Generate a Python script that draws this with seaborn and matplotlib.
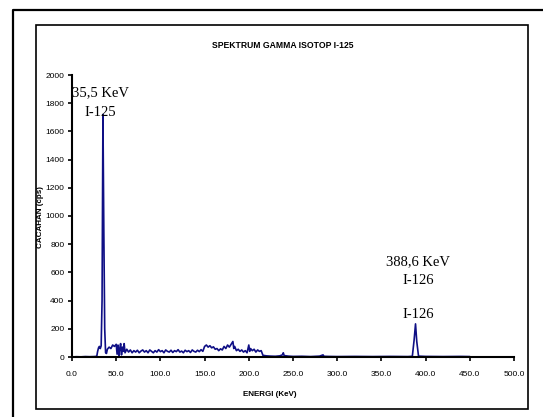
import numpy as np
import pandas as pd
import matplotlib
matplotlib.use("Agg")
import matplotlib.pyplot as plt
from matplotlib.lines import Line2D
from matplotlib.patches import Rectangle
import seaborn as sns

# spectrum: energy (keV) and counts (cps)
energi = [0, 5, 10, 15, 20, 25, 28, 29, 30, 31, 32, 33, 34, 35, 36, 37, 38, 39, 40,
          42, 44, 46, 48, 50, 51, 52, 53, 54, 55, 56, 57, 58, 59, 60,
          62, 64, 66, 68, 70, 72, 74, 76, 78, 80, 82, 84, 86, 88, 90,
          92, 94, 96, 98, 100, 102, 104, 106, 108, 110, 112, 114, 116, 118, 120,
          122, 124, 126, 128, 130, 132, 134, 136, 138, 140, 142, 144, 146, 148,
          150, 152, 154, 156, 158, 160, 162, 164, 166, 168, 170, 172, 174, 176,
          178, 180, 182, 183, 184, 186, 188, 190, 192, 194, 196, 198, 200, 201,
          202, 204, 206, 208, 210, 212, 214, 216, 218, 220, 225, 230, 235, 238,
          239, 240, 245, 250, 260, 270, 280, 284, 285, 290, 300, 320, 340, 360,
          380, 385, 387, 388.6, 390, 392, 400, 420, 440, 450]
cacahan = [0, 2, 1, 3, 2, 3, 5, 40, 65, 75, 60, 80, 400, 1720, 900, 200, 30, 25, 55,
           70, 60, 85, 75, 90, 20, 85, 10, 60, 95, 15, 70, 40, 95, 30,
           55, 35, 50, 30, 45, 35, 48, 30, 42, 50, 35, 45, 30, 50, 40,
           30, 45, 35, 52, 38, 45, 30, 50, 40, 35, 48, 32, 45, 38, 52,
           35, 42, 30, 48, 38, 45, 32, 50, 40, 35, 48, 38, 52, 40,
           75, 85, 70, 80, 65, 72, 55, 60, 45, 58, 50, 75, 60, 85,
           70, 90, 110, 60, 75, 45, 55, 40, 50, 35, 45, 30, 85, 40,
           60, 45, 55, 35, 50, 40, 45, 12, 10, 8, 6, 5, 8, 15,
           30, 10, 6, 4, 5, 3, 6, 15, 5, 4, 3, 4, 3, 4,
           3, 5, 120, 235, 110, 6, 4, 3, 4, 3]

xticks = [0, 50, 100, 150, 200, 250, 300, 350, 400, 450, 500]
yticks = [0, 200, 400, 600, 800, 1000, 1200, 1400, 1600, 1800, 2000]

df = pd.DataFrame({"energi": energi, "cacahan": cacahan})

sns.set_style("white", {"text.color": "black", "axes.labelcolor": "black",
                        "xtick.color": "black", "ytick.color": "black"})
plt.rcParams["font.family"] = ["Liberation Sans Narrow", "Liberation Sans", "DejaVu Sans"]

fig = plt.figure(figsize=(5.43, 4.17), dpi=100)
ax = fig.add_axes([72 / 543, 1 - 357 / 417, (514 - 72) / 543, (357 - 75) / 417])

sns.lineplot(data=df, x="energi", y="cacahan", ax=ax, color="#0f0f85",
             linewidth=1.2, sort=False)

ax.set_xlim(0, 500)
ax.set_ylim(0, 2000)
ax.set_xticks(xticks)
ax.set_xticklabels([f"{t:.1f}" for t in xticks])
ax.set_yticks(yticks)
ax.set_yticklabels([str(t) for t in yticks])
ax.tick_params(axis="both", direction="out", length=3, width=1.2, labelsize=6.0,
               color="black", labelcolor="black", pad=2.5, left=True, bottom=True)
ax.tick_params(axis="x", pad=7)
for side in ["top", "right"]:
    ax.spines[side].set_visible(False)
for side in ["left", "bottom"]:
    ax.spines[side].set_color("black")
    ax.spines[side].set_linewidth(1.5)
ax.set_facecolor("white")

ax.set_xlabel("ENERGI (KeV)", fontsize=5.8, fontweight="bold", color="black")
ax.xaxis.set_label_coords((270 - 72) / (514 - 72), -(391 - 357) / (357 - 75))
ax.set_ylabel("CACAHAN (cps)", fontsize=5.8, fontweight="bold", color="black")
ax.yaxis.set_label_coords(-(72 - 44) / (514 - 72), (357 - 217) / (357 - 75))

fig.text(283 / 543, 1 - 45 / 417, "SPEKTRUM GAMMA ISOTOP I-125", ha="center",
         va="center", fontsize=6.2, fontweight="bold", color="black")

serif = ["Liberation Serif", "DejaVu Serif"]
ann = [(100, 93, "35,5 KeV"), (100, 112, "I-125"), (418, 262, "388,6 KeV"),
       (418, 280, "I-126"), (418, 315, "I-126")]
for px, py, txt in ann:
    fig.text(px / 543, 1 - py / 417, txt, ha="center", va="center",
             fontsize=10.5, family=serif, color="black")

# outer frame (open to the right and bottom) and inner chart frame
fig.add_artist(Line2D([13 / 543, 13 / 543, 1.0], [0.0, 1 - 10 / 417, 1 - 10 / 417],
                      color="black", linewidth=1.6, transform=fig.transFigure))
fig.add_artist(Rectangle((36 / 543, 1 - 409 / 417), (528 - 36) / 543, (409 - 25) / 417,
                         fill=False, edgecolor="black", linewidth=1.2,
                         transform=fig.transFigure))

fig.savefig("out.png", dpi=100)
